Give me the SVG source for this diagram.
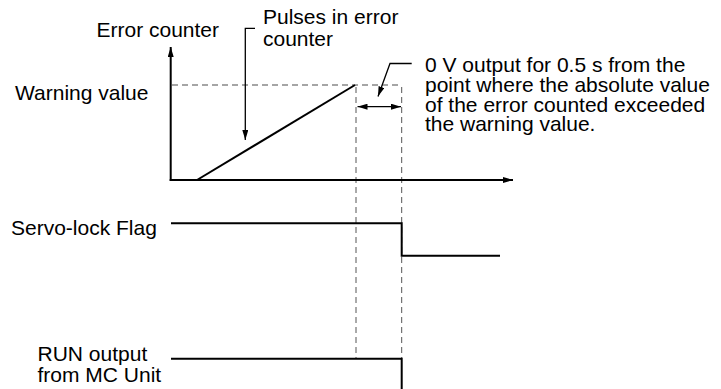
<svg xmlns="http://www.w3.org/2000/svg" width="721" height="389" viewBox="0 0 721 389">
<style>
text{font-family:"Liberation Sans",Arial,sans-serif;font-size:21px;fill:#000}
.s{fill:none;stroke:#000;stroke-width:2}
.l{fill:none;stroke:#000;stroke-width:1.3}
.dh{fill:none;stroke:#888;stroke-width:1.5;stroke-dasharray:6 4}
.dv{fill:none;stroke:#555;stroke-width:1;stroke-dasharray:6 4}
</style>
<defs>
<marker id="ah" viewBox="0 0 10 6" refX="10" refY="3" markerWidth="10" markerHeight="6" markerUnits="userSpaceOnUse" orient="auto-start-reverse">
<path d="M0,0 L10,3 L0,6 z" fill="#000"/>
</marker>
</defs>
<rect width="721" height="389" fill="#fff"/>
<g id="labels">
<text x="96.5" y="36.5">Error counter</text>
<text x="263" y="23.5">Pulses in error</text>
<text x="263" y="45.5">counter</text>
<text x="15" y="99.5">Warning value</text>
<text x="425" y="72.3">0 V output for 0.5 s from the</text>
<text x="425" y="92">point where the absolute value</text>
<text x="425" y="111.7">of the error counted exceeded</text>
<text x="425" y="131.4">the warning value.</text>
<text x="11" y="235">Servo-lock Flag</text>
<text x="37.5" y="360.5">RUN output</text>
<text x="37.5" y="381.7">from MC Unit</text>
</g>
<g id="guides">
<path class="dh" d="M172,85 H401.7"/>
<path class="dv" d="M356,87 V358"/>
<path class="dv" d="M401.7,87 V358"/>
</g>
<g id="axes">
<path class="s" d="M170.7,181 V47" marker-end="url(#ah)"/>
<path class="s" d="M169.7,180 H513" marker-end="url(#ah)"/>
</g>
<g id="ramp">
<path class="s" d="M197,180 L355,85"/>
</g>
<g id="connectors">
<path class="l" d="M255,28.3 H245.3 V140" marker-end="url(#ah)"/>
<path class="l" d="M411.7,63.5 H390 L378,96.5" marker-end="url(#ah)"/>
<path class="l" d="M357.5,106.7 H401" marker-start="url(#ah)" marker-end="url(#ah)"/>
</g>
<g id="servo-lock">
<path class="s" d="M171,223.3 H401.7 V255.7 H500"/>
</g>
<g id="run-output">
<path class="s" d="M171,358.7 H401.7 V389"/>
</g>
</svg>
